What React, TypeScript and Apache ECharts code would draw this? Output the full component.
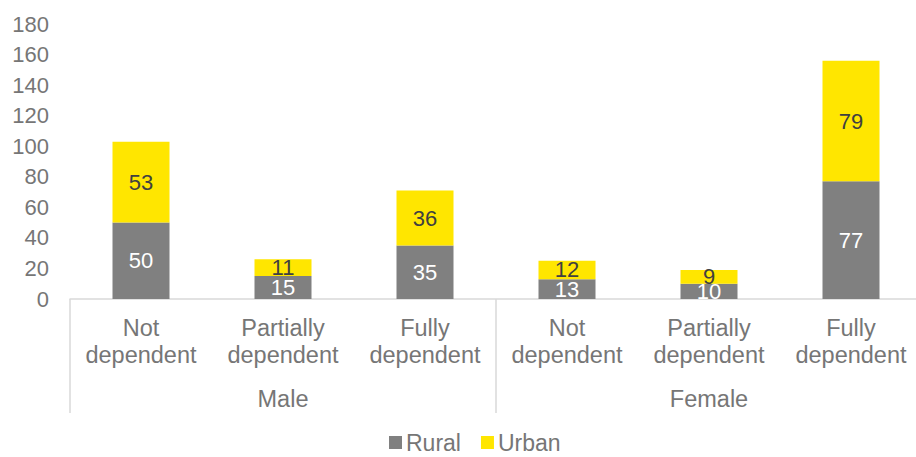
import React, { useEffect, useRef } from "react";
import * as echarts from "echarts";

const categories = [
  "Not\ndependent",
  "Partially\ndependent",
  "Fully\ndependent",
  "Not\ndependent",
  "Partially\ndependent",
  "Fully\ndependent",
];
const groups = ["Male", "Female"];
const rural = [50, 15, 35, 13, 10, 77];
const urban = [53, 11, 36, 12, 9, 79];

const FONT = "'Liberation Sans', Arial, sans-serif";
const TXT = "#767676";
const LINE = "#d9d9d9";

export default function App() {
  const ref = useRef<HTMLDivElement>(null);
  useEffect(() => {
    if (!ref.current) return;
    const chart = echarts.init(ref.current, undefined, { renderer: "svg" });
    chart.setOption({
      animation: false,
      textStyle: { fontFamily: FONT },
      grid: { left: 70, right: 8, top: 24, bottom: 158, containLabel: false },
      legend: {
        data: ["Rural", "Urban"],
        left: 389,
        top: 431,
        padding: 0,
        icon: "rect",
        itemWidth: 13,
        itemHeight: 13,
        itemGap: 20,
        textStyle: { fontSize: 23, color: TXT, fontFamily: FONT, padding: [0, 0, 0, -1] },
      },
      xAxis: [
        {
          type: "category",
          data: categories,
          position: "bottom",
          axisLine: { show: true, lineStyle: { color: LINE, width: 1.5 } },
          axisTick: { show: false },
          axisLabel: {
            interval: 0,
            margin: 15,
            fontSize: 23.5,
            lineHeight: 27,
            color: TXT,
            fontFamily: FONT,
          },
        },
        {
          type: "category",
          data: groups,
          position: "bottom",
          axisLine: { show: false },
          axisTick: { show: true, length: 114, lineStyle: { color: LINE, width: 1.5 } },
          axisLabel: {
            interval: 0,
            margin: 86,
            fontSize: 23.5,
            lineHeight: 27,
            color: TXT,
            fontFamily: FONT,
          },
        },
      ],
      yAxis: {
        type: "value",
        min: 0,
        max: 180,
        interval: 20,
        axisLine: { show: false },
        axisTick: { show: false },
        splitLine: { show: false },
        axisLabel: { margin: 21, fontSize: 22, color: TXT, fontFamily: FONT },
      },
      series: [
        {
          name: "Rural",
          type: "bar",
          stack: "total",
          xAxisIndex: 0,
          barWidth: 57,
          data: rural,
          itemStyle: { color: "#808080" },
          label: {
            show: true,
            position: "inside",
            color: "#ffffff",
            fontSize: 22,
            fontFamily: FONT,
          },
        },
        {
          name: "Urban",
          type: "bar",
          stack: "total",
          xAxisIndex: 0,
          barWidth: 57,
          data: urban,
          itemStyle: { color: "#FFE600" },
          label: {
            show: true,
            position: "inside",
            color: "#404040",
            fontSize: 22,
            fontFamily: FONT,
          },
        },
      ],
    });
    return () => chart.dispose();
  }, []);
  return (
    <div
      style={{
        position: "fixed",
        left: 0,
        top: 0,
        width: 916,
        height: 457,
        overflow: "hidden",
        background: "#ffffff",
      }}
    >
      <div ref={ref} style={{ width: 930, height: 457 }} />
    </div>
  );
}
